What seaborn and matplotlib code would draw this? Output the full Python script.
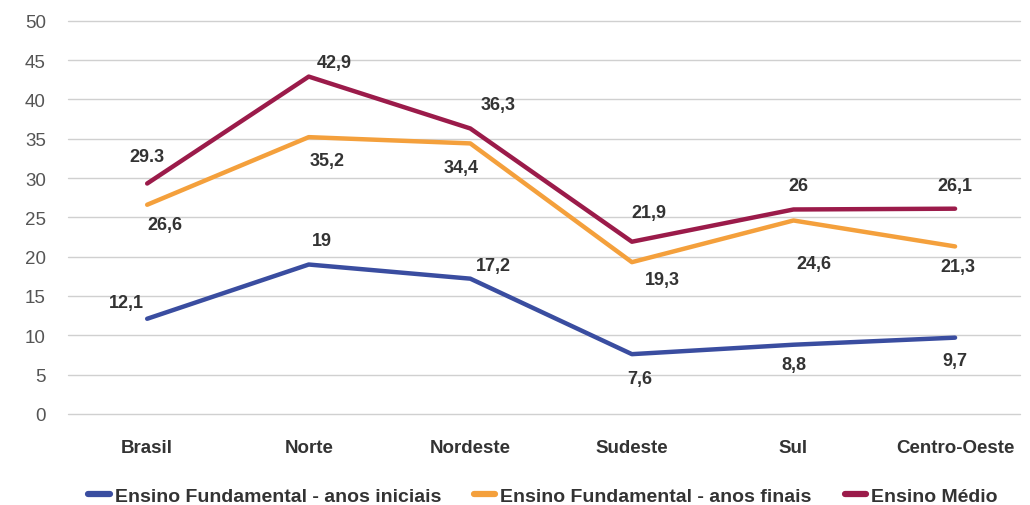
import matplotlib
matplotlib.use("Agg")
import matplotlib.pyplot as plt
import seaborn as sns
import pandas as pd

regioes = ["Brasil", "Norte", "Nordeste", "Sudeste", "Sul", "Centro-Oeste"]
series = ["Ensino Fundamental - anos iniciais", "Ensino Fundamental - anos finais", "Ensino Médio"]
anos_iniciais = [12.1, 19.0, 17.2, 7.6, 8.8, 9.7]
anos_finais = [26.6, 35.2, 34.4, 19.3, 24.6, 21.3]
medio = [29.3, 42.9, 36.3, 21.9, 26.0, 26.1]
rotulos_iniciais = ["12,1", "19", "17,2", "7,6", "8,8", "9,7"]
rotulos_finais = ["26,6", "35,2", "34,4", "19,3", "24,6", "21,3"]
rotulos_medio = ["29.3", "42,9", "36,3", "21,9", "26", "26,1"]
cores = ["#3A4DA0", "#F4A03C", "#9B1B4A"]

# label offsets in pixels (dx, dy), one list per series
off_iniciais = [(-21, 16), (13, 24), (23, 13), (8, -24), (0, -20), (0, -23)]
off_finais = [(18, -20), (18, -23), (-9, -24), (30, -17), (20, -43), (3, -20)]
off_medio = [(0, 27), (26, 14), (28, 24), (17, 29), (5, 24), (0, 23)]

frame = pd.DataFrame({
    "Regiao": regioes * 3,
    "Valor": anos_iniciais + anos_finais + medio,
    "Serie": [series[0]] * 6 + [series[1]] * 6 + [series[2]] * 6,
})
frame["x"] = frame["Regiao"].map({r: i for i, r in enumerate(regioes)})

sns.set_style("white")
plt.rcParams["font.family"] = ["Liberation Sans", "DejaVu Sans"]

fig = plt.figure(figsize=(10.3, 5.06), dpi=100)
ax = fig.add_axes([0.066, 0.18, 0.924, 0.777])

sns.lineplot(data=frame, x="x", y="Valor", hue="Serie", palette=cores,
             linewidth=3.2, ax=ax, legend=False, solid_capstyle="round")

ax.set_ylim(0, 50)
ax.set_xlim(-0.49, 5.4)
ax.set_yticks(range(0, 51, 5))
ax.set_xticks(range(len(regioes)))
ax.set_xticklabels(regioes, fontsize=13.5, fontweight="bold", color="#333333")
ax.tick_params(axis="x", length=0, pad=18)
ax.tick_params(axis="y", length=0, pad=16, labelsize=13.5, labelcolor="#555555")
ax.yaxis.grid(True, color="#d0d0d0", linewidth=1)
for gl in ax.get_ygridlines():
    gl.set_clip_on(False)
ax.set_axisbelow(True)
for s in ax.spines.values():
    s.set_visible(False)
ax.set_xlabel("")
ax.set_ylabel("")

for vals, labs, offs in [(anos_iniciais, rotulos_iniciais, off_iniciais),
                         (anos_finais, rotulos_finais, off_finais),
                         (medio, rotulos_medio, off_medio)]:
    for i, (v, t, o) in enumerate(zip(vals, labs, offs)):
        ax.annotate(t, (i, v), xytext=o, textcoords="offset pixels",
                    ha="center", va="center", fontsize=13, fontweight="bold",
                    color="#333333")

handles = [plt.Line2D([], [], color=c, linewidth=4.5, solid_capstyle="round") for c in cores]
fig.legend(handles, series, loc="lower center", bbox_to_anchor=(0.527, -0.035), ncol=3,
           frameon=False, handlelength=1.1, handletextpad=0.25, columnspacing=1.7,
           prop={"size": 14, "weight": "bold"}, labelcolor="#333333")

fig.savefig("out.png", dpi=100)
